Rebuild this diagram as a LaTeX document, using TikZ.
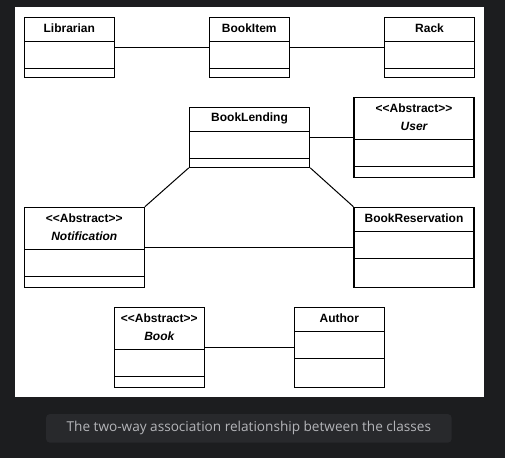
\documentclass[tikz,border=0pt]{standalone}
\usepackage{fontspec}
\setmainfont{Liberation Sans}
\newfontfamily\capfont{Open Sans}
\usetikzlibrary{fit}
\definecolor{bgdark}{HTML}{1C1D1F}
\definecolor{capbox}{HTML}{28292C}
\definecolor{captext}{HTML}{B4B5B9}
\tikzset{
  clsbox/.style={draw=black, line width=0.8pt, inner sep=0pt, fill=white},
  sepline/.style={draw=black, line width=0.75pt},
  assoc/.style={draw=black, line width=0.75pt},
  ttl/.style={font=\fontsize{9}{10}\selectfont\bfseries, inner sep=0pt, text=black},
  ttlit/.style={font=\fontsize{9}{10}\selectfont\bfseries\itshape, inner sep=0pt, text=black},
}
% name, x1, y1, x2, y2, sep1, sep2
\newcommand{\umlbox}[7]{%
  \node[clsbox, fit={(#2,#3) (#4,#5)}] (#1) {};
  \draw[sepline] (#2,#6) -- (#4,#6);
  \draw[sepline] (#2,#7) -- (#4,#7);
}
\begin{document}
\begin{tikzpicture}[x=0.75pt, y=-0.75pt]
\fill[bgdark] (0,0) rectangle (505,458);
\useasboundingbox (0,0) rectangle (505,458);
\fill[white] (15,7) rectangle (484,397);

% row 1
\umlbox{lib}{24.3}{17.3}{114.3}{77.3}{41.7}{68.7}
\node[ttl] (libt) at (69.3,28.2) {Librarian};
\umlbox{item}{209.3}{17.3}{289.3}{77.3}{41.7}{68.7}
\node[ttl] (itemt) at (249.3,28.2) {BookItem};
\umlbox{rack}{384.3}{17.3}{474.7}{77.3}{41.7}{68.7}
\node[ttl] (rackt) at (429.5,28.2) {Rack};

% row 2
\umlbox{lend}{189.3}{107.3}{309.7}{167.3}{131.7}{158.7}
\node[ttl] (lendt) at (249.5,118.2) {BookLending};
\umlbox{user}{354}{97.3}{474}{177.3}{139.3}{166.3}
\node[ttl] (usera) at (414,108.2) {<{}<Abstract>{}>};
\node[ttlit] (usert) at (414,126.2) {User};

% row 3
\umlbox{notif}{24.3}{207.3}{144.3}{287.3}{249.3}{276.3}
\node[ttl] (notifa) at (84.3,218.2) {<{}<Abstract>{}>};
\node[ttlit] (notift) at (84.3,236.2) {Notification};
\umlbox{res}{354}{207.3}{474}{287.3}{231.3}{258.3}
\node[ttl] (rest) at (414,218.2) {BookReservation};

% row 4
\umlbox{book}{114.3}{307.3}{204.3}{387.3}{349.3}{376.3}
\node[ttl] (booka) at (159.3,318.2) {<{}<Abstract>{}>};
\node[ttlit] (bookt) at (159.3,336.2) {Book};
\umlbox{auth}{294.3}{307.3}{384.3}{387.3}{331.7}{358.7}
\node[ttl] (autht) at (339.3,318.2) {Author};

% associations
\draw[assoc] (lib.east) -- (item.west);
\draw[assoc] (item.east) -- (rack.west);
\draw[assoc] (lend.east) -- (user.west);
\draw[assoc] (lend.south west) -- (notif.north east);
\draw[assoc] (lend.south east) -- (res.north west);
\draw[assoc] (notif.east) -- (res.west);
\draw[assoc] (book.east) -- (auth.west);

% caption
\node[fill=capbox, rounded corners=3pt, minimum width=405.7*0.75pt, minimum height=28.7*0.75pt, inner sep=0pt] (capbg) at (248.85,428.35) {};
\node[font=\capfont\fontsize{10.2}{12}\selectfont, text=captext, inner sep=0pt] (cap) at (capbg.center) {The two-way association relationship between the classes};
\end{tikzpicture}
\end{document}
